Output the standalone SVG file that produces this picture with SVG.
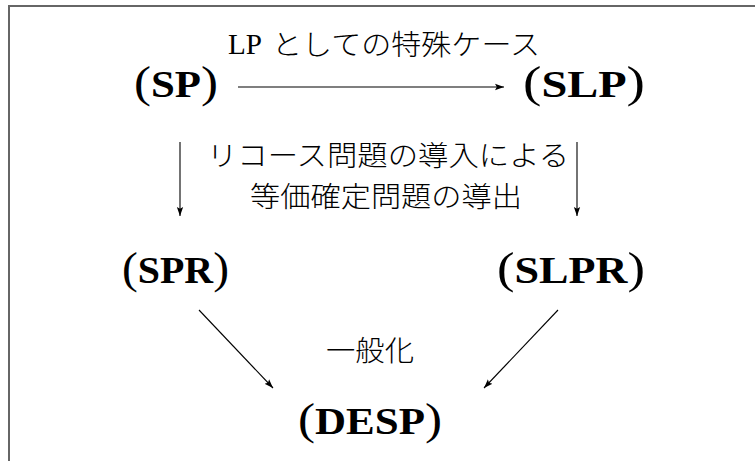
<svg xmlns="http://www.w3.org/2000/svg" width="755" height="461" viewBox="0 0 755 461">
<style>
.node{font-family:"Liberation Serif","DejaVu Serif",serif;font-weight:bold;font-size:37px;fill:#000}
.par{font-size:44px;font-weight:normal}
.lab{font-family:"Noto Sans CJK JP",sans-serif;font-weight:300;font-size:28px;fill:#000}
.lat{font-family:"Liberation Serif",serif;font-weight:normal;font-size:29px;fill:#000}
.edge{stroke:#000;stroke-width:1.1;fill:none;marker-end:url(#ah)}
</style>
<defs>
<marker id="ah" viewBox="0 0 10 10" refX="10" refY="5" markerWidth="9" markerHeight="9" markerUnits="userSpaceOnUse" orient="auto">
<path d="M0,1.5 L10,5 L0,8.5 L2,5 Z" fill="#000"/>
</marker>
</defs>
<rect width="755" height="461" fill="#fff"/>
<path d="M9,461 V6 H755" stroke="#666" stroke-width="2" fill="none"/>
<g id="SP"><text class="node" x="134" y="97" textLength="84" lengthAdjust="spacingAndGlyphs"><tspan class="par">(</tspan>SP<tspan class="par">)</tspan></text></g>
<g id="SLP"><text class="node" x="523" y="97" textLength="122" lengthAdjust="spacingAndGlyphs"><tspan class="par">(</tspan>SLP<tspan class="par">)</tspan></text></g>
<g id="SPR"><text class="node" x="122" y="283" textLength="107" lengthAdjust="spacingAndGlyphs"><tspan class="par">(</tspan>SPR<tspan class="par">)</tspan></text></g>
<g id="SLPR"><text class="node" x="497" y="283" textLength="148" lengthAdjust="spacingAndGlyphs"><tspan class="par">(</tspan>SLPR<tspan class="par">)</tspan></text></g>
<g id="DESP"><text class="node" x="298" y="434" textLength="144" lengthAdjust="spacingAndGlyphs"><tspan class="par">(</tspan>DESP<tspan class="par">)</tspan></text></g>
<g id="connectors">
<line class="edge" x1="238" y1="87" x2="504" y2="87"/>
<line class="edge" x1="180" y1="142" x2="180" y2="216"/>
<line class="edge" x1="577" y1="142" x2="577" y2="216"/>
<line class="edge" x1="199" y1="310" x2="273" y2="388"/>
<line class="edge" x1="558" y1="310" x2="484" y2="388"/>
</g>
<g id="labels">
<text class="lat" x="228" y="54" textLength="34" lengthAdjust="spacingAndGlyphs">LP</text>
<text class="lab" x="272" y="55" textLength="268" lengthAdjust="spacingAndGlyphs">としての特殊ケース</text>
<text class="lab" x="207" y="166" textLength="362" lengthAdjust="spacingAndGlyphs">リコース問題の導入による</text>
<text class="lab" x="250" y="207" textLength="272" lengthAdjust="spacingAndGlyphs">等価確定問題の導出</text>
<text class="lab" x="326" y="361" textLength="88" lengthAdjust="spacingAndGlyphs">一般化</text>
</g>
</svg>
